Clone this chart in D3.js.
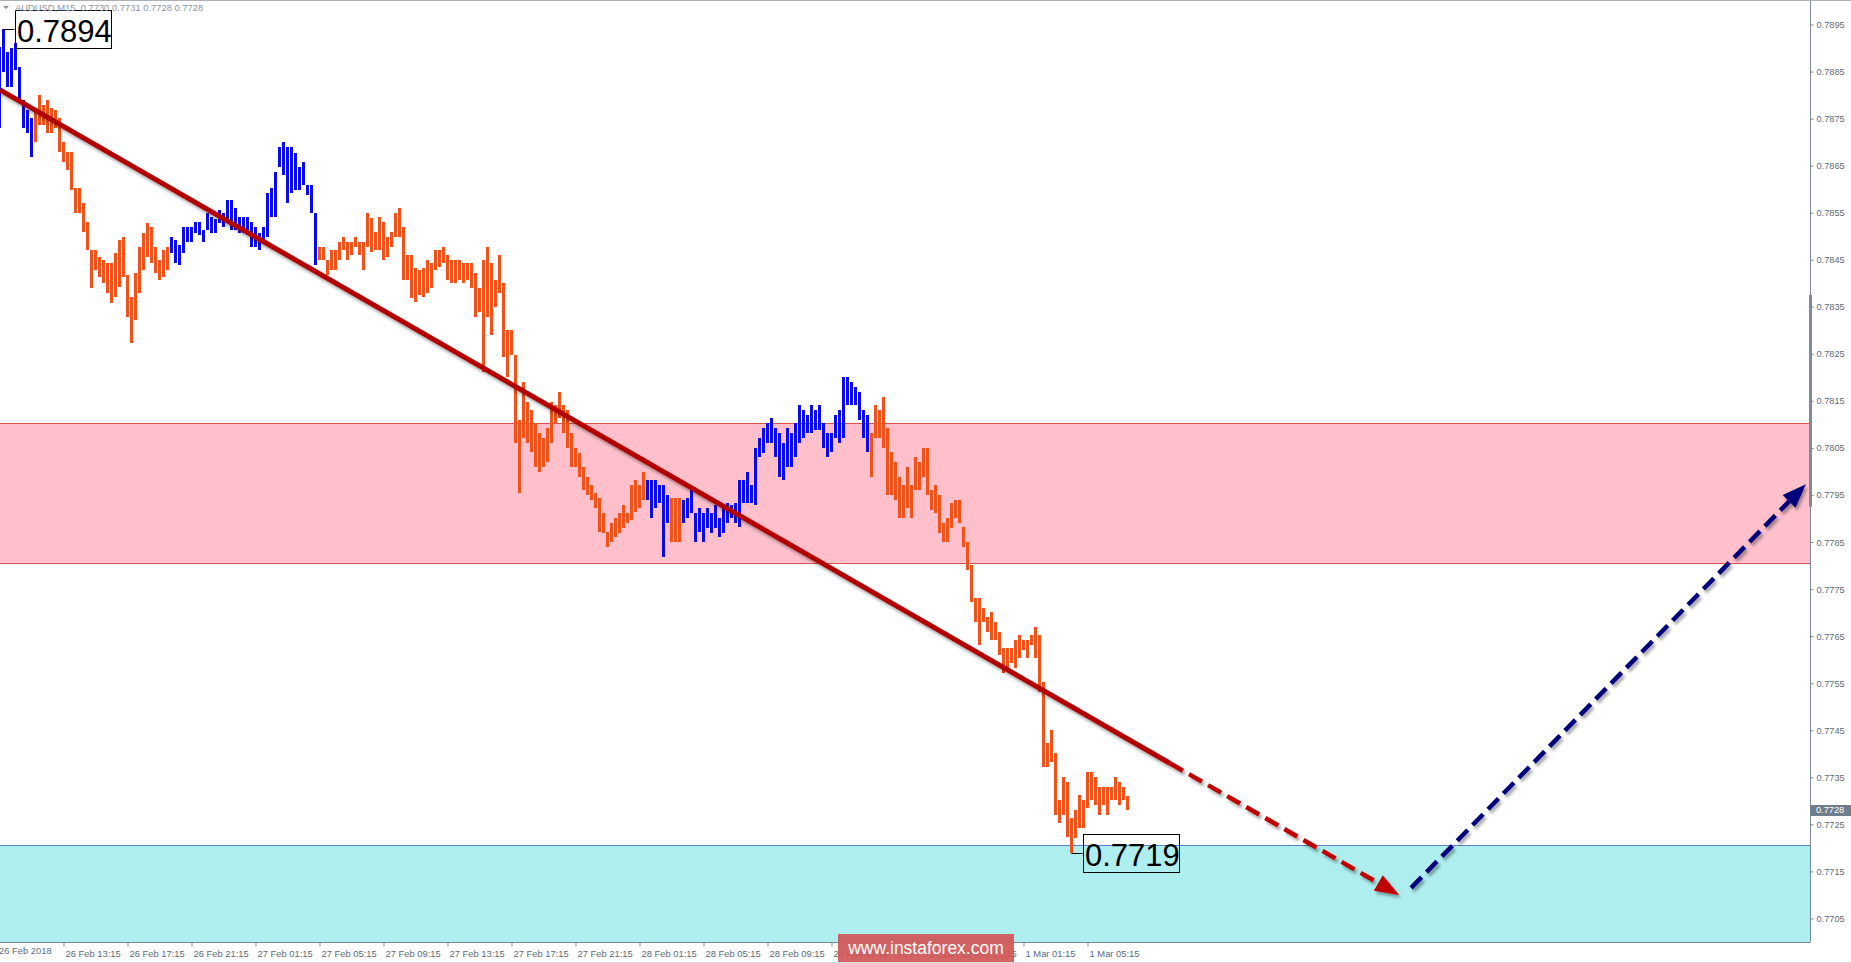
<!DOCTYPE html>
<html><head><meta charset="utf-8">
<script src="https://cdn.jsdelivr.net/npm/d3@7"></script>
<style>
html,body{margin:0;padding:0;background:#fff;overflow:hidden}
svg{display:block}
</style></head><body>
<svg id="c" width="1851" height="963"></svg>
<script>
// ---------------- DATA ----------------
const chartTitle = "AUDUSD,M15  0.7730 0.7731 0.7728 0.7728";
const highs = [
0.78902,0.78940,0.78892,0.78900,0.78911,0.78860,0.78790,0.78768,0.78751,0.78768,
0.78800,0.78779,0.78790,0.78773,0.78768,0.78751,0.78700,0.78679,0.78679,0.78603,
0.78603,0.78570,0.78530,0.78471,0.78471,0.78456,0.78450,0.78443,0.78443,0.78464,
0.78492,0.78498,0.78418,0.78371,0.78422,0.78477,0.78507,0.78528,0.78520,0.78477,
0.78450,0.78471,0.78477,0.78498,0.78492,0.78481,0.78520,0.78520,0.78520,0.78530,
0.78530,0.78513,0.78549,0.78541,0.78537,0.78556,0.78549,0.78577,0.78577,0.78560,
0.78541,0.78541,0.78541,0.78530,0.78520,0.78507,0.78520,0.78592,0.78603,0.78637,
0.78690,0.78700,0.78690,0.78690,0.78677,0.78647,0.78658,0.78609,0.78609,0.78549,
0.78477,0.78477,0.78450,0.78471,0.78471,0.78488,0.78498,0.78488,0.78488,0.78498,
0.78488,0.78488,0.78549,0.78539,0.78509,0.78541,0.78530,0.78498,0.78509,0.78549,
0.78560,0.78520,0.78460,0.78460,0.78432,0.78428,0.78432,0.78450,0.78443,0.78471,
0.78471,0.78477,0.78460,0.78450,0.78450,0.78450,0.78443,0.78443,0.78443,0.78422,
0.78390,0.78450,0.78477,0.78443,0.78407,0.78460,0.78401,0.78301,0.78301,0.78248,
0.78110,0.78190,0.78148,0.78131,0.78103,0.78082,0.78071,0.78092,0.78148,0.78141,
0.78169,0.78141,0.78131,0.78082,0.78050,0.78039,0.78010,0.77988,0.77971,0.77954,
0.77944,0.77912,0.77871,0.77891,0.77901,0.77912,0.77929,0.77912,0.77971,0.77982,
0.77971,0.77999,0.77982,0.77982,0.77982,0.77971,0.77971,0.77950,0.77944,0.77944,
0.77944,0.77939,0.77944,0.77961,0.77912,0.77922,0.77912,0.77922,0.77912,0.77929,
0.77901,0.77922,0.77933,0.77929,0.77933,0.77982,0.77982,0.77999,0.77971,0.78050,
0.78071,0.78092,0.78103,0.78114,0.78092,0.78082,0.78061,0.78092,0.78082,0.78103,
0.78141,0.78131,0.78120,0.78141,0.78131,0.78141,0.78103,0.78082,0.78082,0.78120,
0.78131,0.78201,0.78201,0.78190,0.78180,0.78169,0.78131,0.78120,0.78082,0.78141,
0.78131,0.78158,0.78092,0.78041,0.78020,0.77988,0.77971,0.78010,0.77971,0.78031,
0.78020,0.78050,0.78050,0.77961,0.77971,0.77950,0.77891,0.77901,0.77933,0.77939,
0.77939,0.77882,0.77850,0.77801,0.77731,0.77731,0.77710,0.77691,0.77701,0.77680,
0.77659,0.77625,0.77625,0.77625,0.77642,0.77652,0.77642,0.77642,0.77652,0.77670,
0.77652,0.77553,0.77423,0.77451,0.77402,0.77302,0.77351,0.77340,0.77264,0.77281,
0.77312,0.77302,0.77361,0.77361,0.77351,0.77329,0.77329,0.77329,0.77329,0.77351,
0.77340,0.77329,0.77310];
const lows = [
0.78730,0.78849,0.78817,0.78817,0.78853,0.78790,0.78730,0.78719,0.78668,0.78700,
0.78736,0.78736,0.78719,0.78719,0.78730,0.78679,0.78658,0.78641,0.78598,0.78549,
0.78549,0.78510,0.78471,0.78390,0.78428,0.78413,0.78401,0.78379,0.78358,0.78371,
0.78392,0.78413,0.78328,0.78273,0.78322,0.78379,0.78428,0.78456,0.78443,0.78422,
0.78407,0.78413,0.78428,0.78464,0.78443,0.78439,0.78464,0.78488,0.78488,0.78507,
0.78503,0.78488,0.78513,0.78507,0.78507,0.78528,0.78520,0.78535,0.78513,0.78513,
0.78507,0.78507,0.78503,0.78477,0.78477,0.78471,0.78486,0.78498,0.78541,0.78541,
0.78647,0.78630,0.78571,0.78592,0.78598,0.78598,0.78609,0.78588,0.78549,0.78439,
0.78450,0.78450,0.78418,0.78428,0.78428,0.78450,0.78471,0.78450,0.78460,0.78477,
0.78460,0.78428,0.78477,0.78467,0.78471,0.78471,0.78450,0.78456,0.78477,0.78498,
0.78498,0.78407,0.78407,0.78369,0.78360,0.78375,0.78371,0.78379,0.78390,0.78428,
0.78435,0.78443,0.78407,0.78401,0.78401,0.78407,0.78401,0.78407,0.78390,0.78328,
0.78339,0.78211,0.78328,0.78290,0.78350,0.78379,0.78244,0.78201,0.78248,0.78061,
0.77954,0.78071,0.78061,0.78041,0.78010,0.77999,0.78010,0.78020,0.78061,0.78103,
0.78114,0.78082,0.78050,0.78010,0.78010,0.77988,0.77961,0.77950,0.77939,0.77922,
0.77871,0.77869,0.77839,0.77850,0.77861,0.77869,0.77880,0.77891,0.77897,0.77914,
0.77922,0.77939,0.77939,0.77901,0.77922,0.77933,0.77818,0.77891,0.77850,0.77850,
0.77850,0.77891,0.77901,0.77912,0.77850,0.77871,0.77850,0.77880,0.77869,0.77880,
0.77861,0.77869,0.77891,0.77901,0.77891,0.77882,0.77933,0.77933,0.77933,0.77929,
0.78031,0.78039,0.78061,0.78061,0.78031,0.77988,0.77982,0.78010,0.78010,0.78031,
0.78061,0.78071,0.78082,0.78082,0.78088,0.78088,0.78050,0.78031,0.78041,0.78071,
0.78061,0.78071,0.78141,0.78141,0.78141,0.78110,0.78071,0.78041,0.77988,0.78071,
0.78071,0.78050,0.77950,0.77950,0.77939,0.77901,0.77901,0.77922,0.77901,0.77961,
0.77961,0.77988,0.77950,0.77918,0.77912,0.77869,0.77850,0.77850,0.77880,0.77901,
0.77891,0.77840,0.77791,0.77723,0.77680,0.77631,0.77680,0.77659,0.77642,0.77642,
0.77610,0.77572,0.77582,0.77593,0.77582,0.77603,0.77621,0.77603,0.77631,0.77603,
0.77531,0.77372,0.77372,0.77383,0.77270,0.77253,0.77270,0.77223,0.77190,0.77221,
0.77242,0.77242,0.77285,0.77302,0.77291,0.77270,0.77291,0.77270,0.77302,0.77302,
0.77291,0.77302,0.77280];
// bar-index ranges painted blue (rising waves); all other bars orange
const blueRuns = [[0, 8], [43, 79], [162, 167], [171, 217]];
const priceTicks = [0.7705,0.7715,0.7725,0.7735,0.7745,0.7755,0.7765,0.7775,0.7785,0.7795,
                    0.7805,0.7815,0.7825,0.7835,0.7845,0.7855,0.7865,0.7875,0.7885,0.7895];
const firstTimeLabel = "26 Feb 2018";
const timeLabels = ["26 Feb 13:15","26 Feb 17:15","26 Feb 21:15","27 Feb 01:15","27 Feb 05:15",
  "27 Feb 09:15","27 Feb 13:15","27 Feb 17:15","27 Feb 21:15","28 Feb 01:15","28 Feb 05:15",
  "28 Feb 09:15","28 Feb 13:15","28 Feb 17:15","28 Feb 21:15","1 Mar 01:15","1 Mar 05:15"];
const timeLabelBars = [16,32,48,64,80,96,112,128,144,160,176,192,208,224,240,256,272];
const resistanceZone = [0.77806, 0.78103];
const supportZone = [0.7695, 0.77206];
const trendLine = [[0.125, 0.78811], [292.6, 0.77380]];
const trendProjection = [[292.6, 0.77380], [349.9, 0.77100]];
const reboundProjection = [[352.9, 0.77115], [451.6, 0.77973]];
const extremeLabels = ["0.7894", "0.7719"];
const extremeBars = [1, 268];
const extremePrices = [0.7894, 0.7719];
const lastPrice = 0.7728;
const scaleGrip = [0.77925, 0.78375];
const watermark = "www.instaforex.com";

// ---------------- LAYOUT ----------------
const W = 1851, H = 963;
const plot = {left: 0, right: 1810, top: 1, bottom: 942};
const BLUE = "#0a0ae8", ORANGE = "#f0521a";
const FONT = "Liberation Sans, Arial, sans-serif";

const x = d3.scaleLinear().domain([0, 452.625]).range([-0.5, 1810]);
const y = d3.scaleLinear().domain([0.77, 0.79]).range([942, 1]);

const svg = d3.select("#c");
const defs = svg.append("defs");
defs.append("clipPath").attr("id", "clip").append("rect")
  .attr("x", plot.left).attr("y", plot.top).attr("width", plot.right - plot.left).attr("height", plot.bottom - plot.top);
const f = defs.append("filter").attr("id", "sh").attr("x", "-5%").attr("y", "-5%").attr("width", "110%").attr("height", "120%");
f.append("feDropShadow").attr("dx", 2).attr("dy", 3).attr("stdDeviation", 1.6)
  .attr("flood-color", "#000").attr("flood-opacity", 0.35);

svg.append("rect").attr("width", W).attr("height", H).attr("fill", "#fff");

const g = svg.append("g").attr("clip-path", "url(#clip)");

// zones
function zone(z, fill) {
  const y0 = y(z[1]), y1 = y(z[0]);
  g.append("rect").attr("x", plot.left).attr("width", plot.right - plot.left)
    .attr("y", y0).attr("height", y1 - y0).attr("fill", fill);
  return [y0, y1];
}
function hline(yy, col) {
  g.append("line").attr("x1", plot.left).attr("x2", plot.right)
    .attr("y1", Math.round(yy) + 0.5).attr("y2", Math.round(yy) + 0.5)
    .attr("stroke", col).attr("stroke-width", 1);
}
const rz = zone(resistanceZone, "#ffc0cb");
hline(rz[0], "#e0504a");
hline(rz[1], "#e0504a");
const sz = zone(supportZone, "#afeeee");
hline(sz[0], "#5a82c8");

// bars
const bars = highs.map((h, i) => ({i, h, l: lows[i], up: blueRuns.some(([a, b]) => i >= a && i <= b)}));
g.selectAll("rect.bar").data(bars).join("rect").attr("class", "bar")
  .attr("x", d => x(d.i) - 1.5).attr("width", 3)
  .attr("y", d => Math.round(y(d.h)))
  .attr("height", d => Math.max(2, Math.round(y(d.l)) - Math.round(y(d.h))))
  .attr("fill", d => d.up ? BLUE : ORANGE);

// extreme labels
extremeLabels.forEach((t, j) => {
  const bx = x(extremeBars[j]), by = y(extremePrices[j]);
  const boxX = bx + 11, boxY = by - 19;
  g.append("line").attr("x1", bx).attr("x2", boxX).attr("y1", Math.round(by) + 0.5).attr("y2", Math.round(by) + 0.5)
    .attr("stroke", "#000").attr("stroke-width", 1);
  g.append("rect").attr("x", Math.round(boxX) + 0.5).attr("y", Math.round(boxY) + 0.5).attr("width", 96).attr("height", 38)
    .attr("fill", "none").attr("stroke", "#000").attr("stroke-width", 1);
  g.append("text").attr("x", Math.round(boxX) + 2).attr("y", Math.round(boxY) + 32)
    .attr("font-family", FONT).attr("font-size", 31).attr("fill", "#000").text(t);
});

// trend line (solid) + projection (dashed) with arrowheads
const tl = svg.append("g").attr("clip-path", "url(#clip)").attr("filter", "url(#sh)");
tl.append("line").attr("x1", x(trendLine[0][0])).attr("y1", y(trendLine[0][1]))
  .attr("x2", x(trendLine[1][0])).attr("y2", y(trendLine[1][1]))
  .attr("stroke", "#b30000").attr("stroke-width", 5);

function dashedArrow(p0, p1, color) {
  const X0 = x(p0[0]), Y0 = y(p0[1]), X1 = x(p1[0]), Y1 = y(p1[1]);
  const ang = Math.atan2(Y1 - Y0, X1 - X0);
  const L = 24, Wd = 9;
  const bxp = X1 - L * Math.cos(ang), byp = Y1 - L * Math.sin(ang);
  tl.append("line").attr("x1", X0).attr("y1", Y0).attr("x2", bxp).attr("y2", byp)
    .attr("stroke", color).attr("stroke-width", 4.5).attr("stroke-dasharray", "15,7");
  const px = -Math.sin(ang), py = Math.cos(ang);
  tl.append("path").attr("d", `M${X1},${Y1}L${bxp + px * Wd},${byp + py * Wd}L${bxp - px * Wd},${byp - py * Wd}Z`)
    .attr("fill", color);
}
dashedArrow(trendProjection[0], trendProjection[1], "#c00000");
dashedArrow(reboundProjection[0], reboundProjection[1], "#00007a");

// ---------------- AXES ----------------
const axisCol = "#7a8896", textCol = "#5d6a78";
svg.append("line").attr("x1", 0).attr("x2", W).attr("y1", 0.5).attr("y2", 0.5).attr("stroke", "#a9b0b7");

const yAxis = svg.append("g").attr("transform", `translate(${plot.right + 0.5},0)`)
  .call(d3.axisRight(y).tickValues(priceTicks).tickFormat(d3.format(".4f")).tickSize(3).tickPadding(3));
yAxis.select(".domain").attr("stroke", axisCol).attr("d", `M0,${plot.top}V${plot.bottom}`);
yAxis.selectAll(".tick line").attr("stroke", axisCol);
yAxis.selectAll(".tick text").attr("fill", textCol).attr("font-family", FONT).attr("font-size", 9.2);

// scale grip
svg.append("rect").attr("x", plot.right - 1).attr("width", 3).attr("y", y(scaleGrip[1])).attr("height", y(scaleGrip[0]) - y(scaleGrip[1]))
  .attr("fill", "#7d8b99");

// last price tag
const lpY = y(lastPrice);
svg.append("rect").attr("x", plot.right + 1).attr("y", Math.round(lpY) - 5).attr("width", W - plot.right - 1).attr("height", 11).attr("fill", "#6e7e8d");
svg.append("text").attr("x", plot.right + 6).attr("y", lpY).attr("dy", "0.35em").attr("fill", "#fff")
  .attr("font-family", FONT).attr("font-size", 9.2).text(d3.format(".4f")(lastPrice));

// bottom axis
svg.append("line").attr("x1", 0).attr("x2", plot.right + 0.5).attr("y1", plot.bottom + 0.5).attr("y2", plot.bottom + 0.5).attr("stroke", axisCol);
const xAxis = svg.append("g").attr("transform", `translate(0,${plot.bottom + 0.5})`)
  .call(d3.axisBottom(x).tickValues(timeLabelBars).tickFormat((d, i) => timeLabels[i]).tickSize(4).tickPadding(4));
xAxis.select(".domain").remove();
xAxis.selectAll(".tick line").attr("stroke", axisCol);
xAxis.selectAll(".tick text").attr("text-anchor", "start").attr("x", 1.5)
  .attr("fill", textCol).attr("font-family", FONT).attr("font-size", 9.4);
svg.append("text").attr("x", -1).attr("y", plot.bottom + 12).attr("fill", textCol)
  .attr("font-family", FONT).attr("font-size", 9.4).text(firstTimeLabel);
svg.append("line").attr("x1", 0).attr("x2", W).attr("y1", H - 0.5).attr("y2", H - 0.5).attr("stroke", "#d8dde2");

// title
svg.append("path").attr("d", "M3,6L9,6L6,9Z").attr("fill", "#8a96a3");
svg.append("text").attr("x", 15).attr("y", 11).attr("fill", "#8a96a3").attr("xml:space", "preserve")
  .attr("font-family", FONT).attr("font-size", 9.4).text(chartTitle);

// watermark (covers part of the time axis, as in the original)
const wm = svg.append("g");
wm.append("rect").attr("x", 838).attr("y", 934).attr("width", 176).attr("height", 28).attr("fill", "#d05656").attr("opacity", 0.92);
wm.append("text").attr("x", 926).attr("y", 948).attr("dy", "0.36em").attr("text-anchor", "middle").attr("fill", "#fff")
  .attr("font-family", FONT).attr("font-size", 17.5).text(watermark);
</script>
</body></html>
